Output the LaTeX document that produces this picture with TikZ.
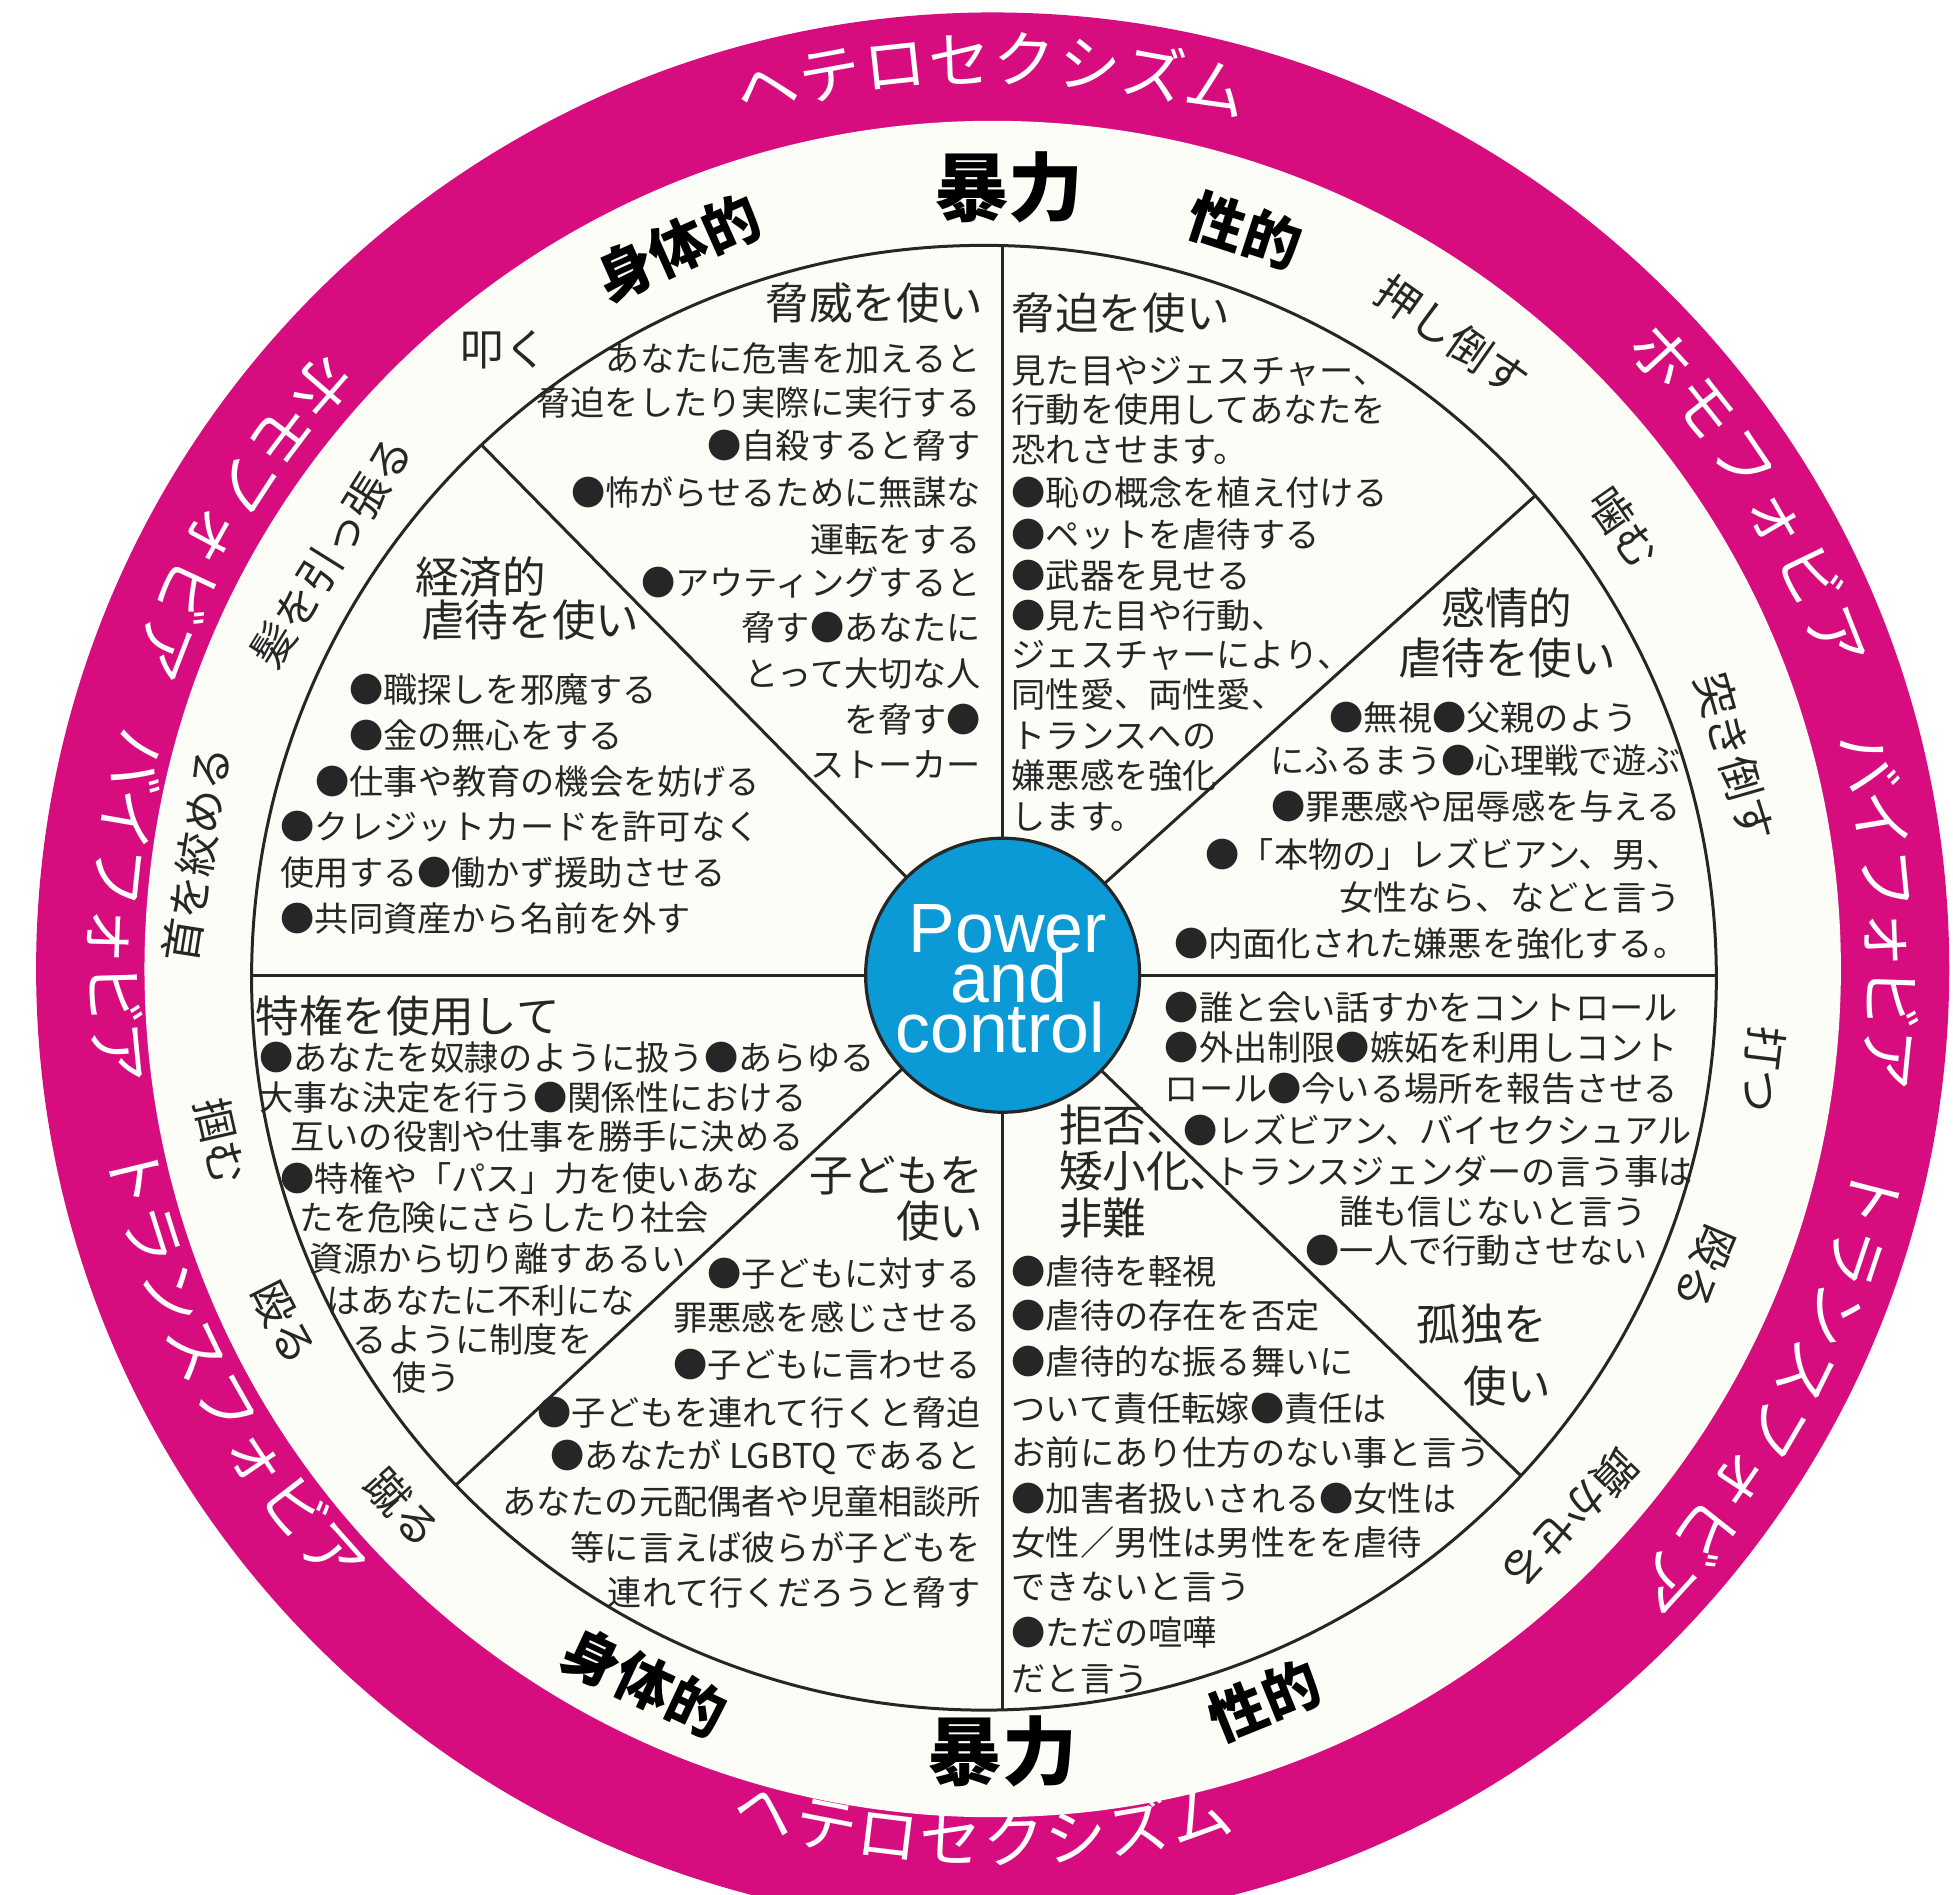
\documentclass[tikz,border=0pt]{standalone}
\usepackage{fontspec}
\newfontfamily\jp{Noto Sans CJK JP}
\newfontfamily\lat{Liberation Sans}
\definecolor{mag}{HTML}{D70C7F}
\definecolor{pblue}{HTML}{0B9AD6}
\definecolor{cream}{HTML}{FDFDF7}
\definecolor{ink}{HTML}{262626}
\tikzset{
  jt/.style={inner sep=0pt, text height=0.88em, text depth=0.12em, text=ink},
  bodytxt/.style={jt, yshift=-3.2pt, font=\jp\fontsize{17.1}{20}\selectfont},
  headtxt/.style={jt, yshift=-3.2pt, font=\jp\fontsize{21.8}{26}\selectfont},
  bandtxt/.style={jt, font=\jp\fontsize{21.8}{26}\selectfont},
  boldtxt/.style={jt, font=\jp\bfseries\fontsize{28.6}{32}\selectfont, text=black},
  bigbold/.style={jt, font=\jp\bfseries\fontsize{37.4}{40}\selectfont, text=black},
  ringtxt/.style={jt, font=\jp\fontsize{31}{34}\selectfont, text=white},
  pctxt/.style={inner sep=0pt, text height=0.66em, text depth=0pt, font=\lat\fontsize{34.9}{25}\selectfont, text=white},
  spoke/.style={line width=1.5pt, draw=black!85},
}
% clockwise, tops outward: #1 prefix, #2 cx, #3 cy, #4 r, #5 start, #6 step, #7 chars
\newcommand\CWtext[7]{%
  \foreach \ch [count=\k from 0] in {#7}{%
    \pgfmathsetmacro\ang{#5-\k*#6}%
    \node[ringtxt, rotate=\ang-90, name=#1\k] at ({#2+#4*cos(\ang)},{#3+#4*sin(\ang)}) {\ch};}}
% counter-clockwise, tops inward
\newcommand\CCWtext[7]{%
  \foreach \ch [count=\k from 0] in {#7}{%
    \pgfmathsetmacro\ang{#5+\k*#6}%
    \node[ringtxt, rotate=\ang+90, name=#1\k] at ({#2+#4*cos(\ang)},{#3+#4*sin(\ang)}) {\ch};}}
\begin{document}
\begin{tikzpicture}[x=0.6228pt, y=0.6228pt]
\useasboundingbox (-800,-741) rectangle (768,780);
\clip (-800,-741) rectangle (768,780);
\fill[white] (-800,-741) rectangle (768,780);
% rings
\coordinate (rc) at (-3,2);
\coordinate (ic) at (-10,-5);
\coordinate (pcc) at (5,-3);
\fill[mag] (rc) circle (768);
\fill[cream] (rc) circle (681);
\begin{scope}
  \clip (ic) circle (588);
  \foreach \a in {90,270,0,180,134.5,42,-44,223}
    \draw[spoke] (pcc) -- ++(\a:800);
\end{scope}
\draw[line width=1.5pt, draw=black!85] (ic) circle (588);
\node[circle, fill=pblue, draw=black!85, line width=1.6pt, minimum size=220*0.6228pt, inner sep=0pt] (pc) at (pcc) {};
\node[pctxt, anchor=base] (pw) at (9,15) {Power};
\node[pctxt, anchor=base] (pa) at (10,-25) {and};
\node[pctxt, anchor=base] (pt) at (3,-65) {control};

% magenta ring text
\CWtext{ht}{-3}{2}{718}{104.4}{4.1}{ヘ,テ,ロ,セ,ク,シ,ズ,ム}
\CCWtext{hb}{-3}{2}{712}{254.85}{4.13}{ヘ,テ,ロ,セ,ク,シ,ズ,ム}
\CWtext{rh}{-3}{2}{716}{42.5}{4.2}{ホ,モ,フ,ォ,ビ,ア}
\CWtext{rb}{-3}{2}{710}{13.3}{3.8}{バ,イ,フ,ォ,ビ,ア}
\CWtext{rt}{-3}{2}{718}{-14.5}{3.97}{ト,ラ,ン,ス,フ,ォ,ビ,ア}
\CCWtext{lh}{-3}{2}{726}{139}{3.98}{ホ,モ,フ,ォ,ビ,ア}
\CCWtext{lb}{-3}{2}{718}{166.3}{3.84}{バ,イ,フ,ォ,ビ,ア}
\CCWtext{lt}{-3}{2}{720}{193.6}{4.0}{ト,ラ,ン,ス,フ,ォ,ビ,ア}

% bold band labels
\node[bigbold] (v1) at (10,613) {暴力};
\node[bigbold] (v2) at (5,-643) {暴力};
\node[boldtxt, rotate=24] (b1) at (-251,571) {身体的};
\node[boldtxt, rotate=-18] (b2) at (196,584) {性的};
\node[boldtxt, rotate=-25] (b3) at (-287,-581) {身体的};
\node[boldtxt, rotate=22] (b4) at (219,-596) {性的};

% band small words
\foreach \t/\xx/\yy/\r [count=\k] in {叩く/405/287/0, 髪を引っ張る/272/447/58, 首を絞める/165/687/81, 掴む/170/918/-77, 殴る/222/1065/-63, 蹴る/318/1215/-48, 押し倒す/1162/276/-35, 噛む/1298/428/-55, 突き倒す/1386/610/-74, 打つ/1408/858/-97, 殴る/1363/1015/-113, 躓かせる/1255/1215/-134}
  \node[bandtxt, rotate=\r, name=w\k] at ({\xx-800},{780-\yy}) {\t};

% section 1
\node[headtxt, anchor=east] (h1) at (-10,535) {脅威を使い};
\foreach \t/\yy [count=\k] in {あなたに危害を加えると/287, 脅迫をしたり実際に実行する/322, ●自殺すると脅す/357, ●怖がらせるために無謀な/395, 運転をする/432, ●アウティングすると/467, 脅す●あなたに/503, とって大切な人/540, を脅す●/577, ストーカー/613}
  \node[bodytxt, anchor=east, name=s1l\k] at (-12,{780-\yy}) {\t};

% section 2
\node[headtxt, anchor=west] (h2) at (12,527) {脅迫を使い};
\foreach \t/\yy [count=\k] in {見た目やジェスチャー、/297, 行動を使用してあなたを/328, 恐れさせます。/360, ●恥の概念を植え付ける/395, ●ペットを虐待する/428, ●武器を見せる/461, ●見た目や行動、/493, ジェスチャーにより、/525, 同性愛、両性愛、/557, トランスへの/590, 嫌悪感を強化/622, します。/655}
  \node[bodytxt, anchor=west, name=s2l\k] at (12,{780-\yy}) {\t};

% section 3
\node[headtxt] (h3a) at (410,290) {感情的};
\node[headtxt] (h3b) at (410,250) {虐待を使い};
\foreach \t/\xx/\yy [count=\k] in {●無視●父親のよう/1315/575, にふるまう●心理戦で遊ぶ/1350/610, ●罪悪感や屈辱感を与える/1350/647, ●「本物の」レズビアン、男、/1350/685, 女性なら、などと言う/1350/720, ●内面化された嫌悪を強化する。/1355/757}
  \node[bodytxt, anchor=east, name=s3l\k] at ({\xx-800},{780-\yy}) {\t};

% section 4
\node[headtxt, anchor=west] (h4a) at (-467,315) {経済的};
\node[headtxt, anchor=west] (h4b) at (-462,280) {虐待を使い};
\foreach \t/\xx/\yy [count=\k] in {●職探しを邪魔する/280/553, ●金の無心をする/280/590, ●仕事や教育の機会を妨げる/253/627, ●クレジットカードを許可なく/225/663, 使用する●働かず援助させる/225/700, ●共同資産から名前を外す/225/737}
  \node[bodytxt, anchor=west, name=s4l\k] at ({\xx-800},{780-\yy}) {\t};

% section 5
\node[headtxt, anchor=west] (h5) at (-595,-38) {特権を使用して};
\foreach \t/\xx/\yy [count=\k] in {●あなたを奴隷のように扱う●あらゆる/208/848, 大事な決定を行う●関係性における/208/880, 互いの役割や仕事を勝手に決める/233/912, ●特権や「パス」力を使いあな/225/945, たを危険にさらしたり社会/240/977, 資源から切り離すあるい/248/1010, はあなたに不利にな/262/1043, るように制度を/283/1075, 使う/315/1105}
  \node[bodytxt, anchor=west, name=s5l\k] at ({\xx-800},{780-\yy}) {\t};

% section 6
\node[headtxt, anchor=east] (h6a) at (-10,-165) {子どもを};
\node[headtxt, anchor=east] (h6b) at (-10,-202) {使い};
\foreach \t/\yy [count=\k] in {●子どもに対する/1022, 罪悪感を感じさせる/1057, ●子どもに言わせる/1095, ●子どもを連れて行くと脅迫/1133, ●あなたが LGBTQ であると/1168, あなたの元配偶者や児童相談所/1205, 等に言えば彼らが子どもを/1242, 連れて行くだろうと脅す/1278}
  \node[bodytxt, anchor=east, name=s6l\k] at (-12,{780-\yy}) {\t};

% section 7
\node[headtxt, anchor=west] (h7a) at (50,-125) {拒否、};
\node[headtxt, anchor=west] (h7b) at (50,-162) {矮小化、};
\node[headtxt, anchor=west] (h7c) at (50,-200) {非難};
\foreach \t/\yy [count=\k] in {●虐待を軽視/1020, ●虐待の存在を否定/1055, ●虐待的な振る舞いに/1092, ついて責任転嫁●責任は/1130, お前にあり仕方のない事と言う/1165, ●加害者扱いされる●女性は/1202, 女性／男性は男性をを虐待/1238, できないと言う/1273, ●ただの喧嘩/1310, だと言う/1347}
  \node[bodytxt, anchor=west, name=s7l\k] at (12,{780-\yy}) {\t};

% section 8
\foreach \t/\xx/\yy [count=\k] in {●誰と会い話すかをコントロール/935/808, ●外出制限●嫉妬を利用しコント/935/840, ロール●今いる場所を報告させる/935/873, ●レズビアン、バイセクシュアル/950/907, トランスジェンダーの言う事は/975/940, 誰も信じないと言う/1075/972, ●一人で行動させない/1048/1003}
  \node[bodytxt, anchor=west, name=s8l\k] at ({\xx-800},{780-\yy}) {\t};
\node[headtxt] (h8a) at (390,-285) {孤独を};
\node[headtxt] (h8b) at (410,-335) {使い};
\end{tikzpicture}
\end{document}
